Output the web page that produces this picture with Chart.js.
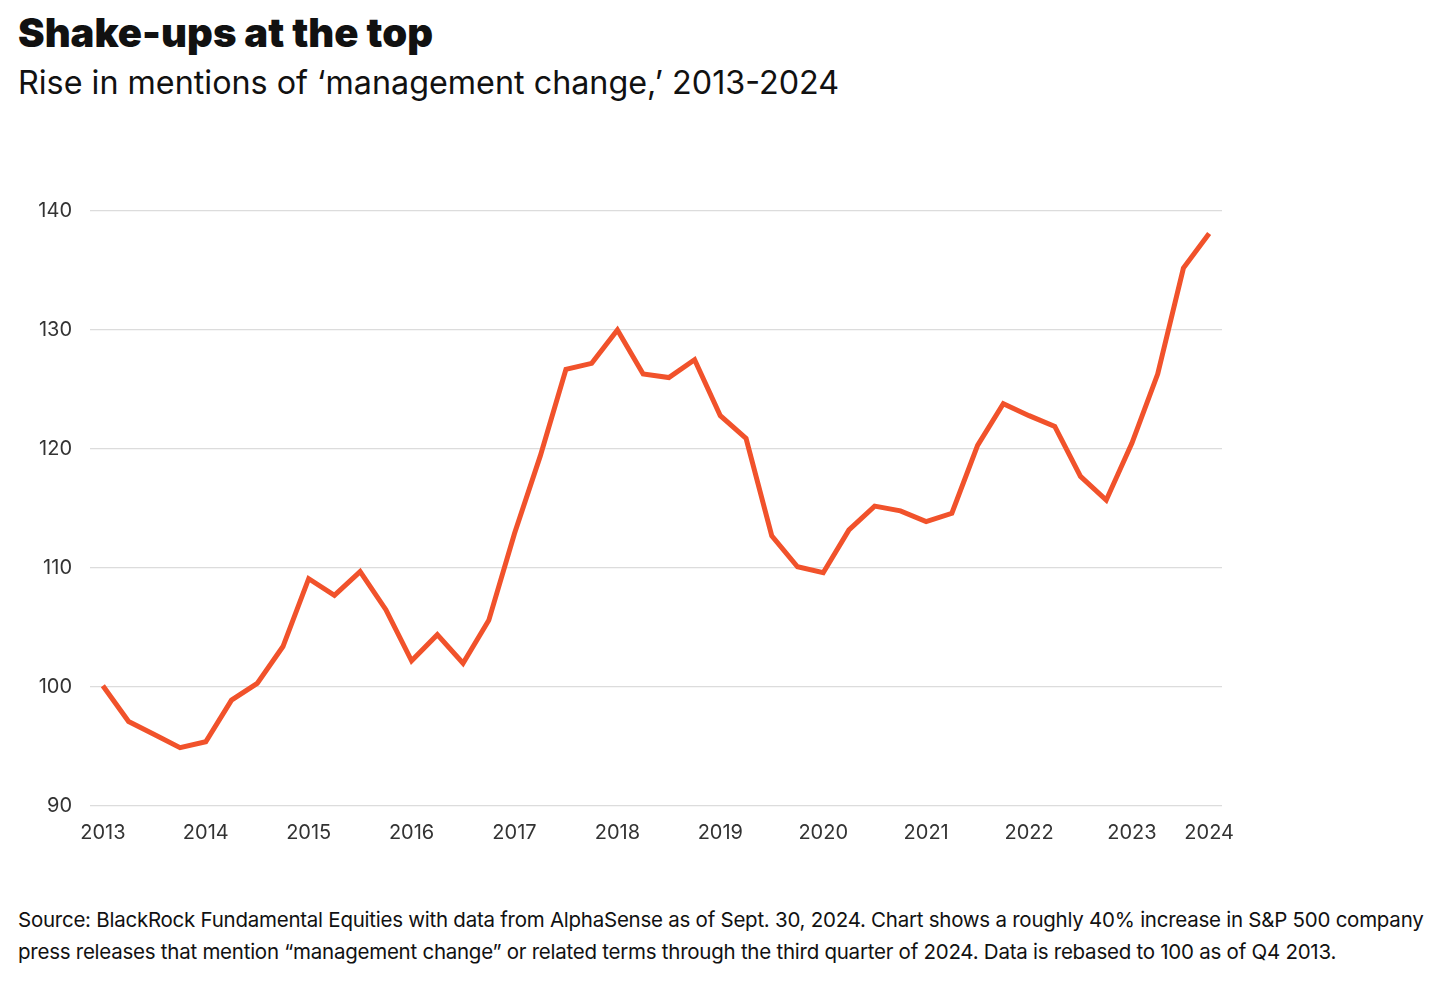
<!DOCTYPE html>
<html>
<head>
<meta charset="utf-8">
<script src="https://cdn.jsdelivr.net/npm/chart.js@4"></script>
<style>
  body { margin: 0; background: #fff; width: 1434px; height: 992px; position: relative; overflow: hidden; font-family: Inter, "Noto Sans", sans-serif; color: #111; }
  #title { position: absolute; left: 18px; top: 8px; font-size: 40px; font-weight: 900; letter-spacing: 0; margin: 0; }
  #subtitle { position: absolute; left: 18px; top: 63px; font-size: 32.3px; font-weight: 400; margin: 0; }
  #wrap { position: absolute; left: 0; top: 181px; width: 1260px; height: 679px; }
  #note { position: absolute; left: 18px; top: 904px; width: 1416px; font-size: 20.5px; line-height: 32px; margin: 0; letter-spacing: -0.25px; white-space: nowrap; }
</style>
</head>
<body>
<h1 id="title">Shake-ups at the top</h1>
<h2 id="subtitle">Rise in mentions of ‘management change,’ 2013-2024</h2>
<div id="wrap"><canvas id="mgmtChart"></canvas></div>
<p id="note">Source: BlackRock Fundamental Equities with data from AlphaSense as of Sept. 30, 2024. Chart shows a roughly 40% increase in S&amp;P 500 company<br>press releases that mention “management change” or related terms through the third quarter of 2024. Data is rebased to 100 as of Q4 2013.</p>
<script>
// quarterly, Q4 2013 .. Q3 2024
var quarters = ['Q4 2013',
  'Q1 2014', 'Q2 2014', 'Q3 2014', 'Q4 2014',
  'Q1 2015', 'Q2 2015', 'Q3 2015', 'Q4 2015',
  'Q1 2016', 'Q2 2016', 'Q3 2016', 'Q4 2016',
  'Q1 2017', 'Q2 2017', 'Q3 2017', 'Q4 2017',
  'Q1 2018', 'Q2 2018', 'Q3 2018', 'Q4 2018',
  'Q1 2019', 'Q2 2019', 'Q3 2019', 'Q4 2019',
  'Q1 2020', 'Q2 2020', 'Q3 2020', 'Q4 2020',
  'Q1 2021', 'Q2 2021', 'Q3 2021', 'Q4 2021',
  'Q1 2022', 'Q2 2022', 'Q3 2022', 'Q4 2022',
  'Q1 2023', 'Q2 2023', 'Q3 2023', 'Q4 2023',
  'Q1 2024', 'Q2 2024', 'Q3 2024'];

var mentions = [100.1,
  97.1, 96.0, 94.9, 95.4,
  98.9, 100.3, 103.4, 109.1,
  107.7, 109.7, 106.5, 102.2,
  104.4, 102.0, 105.6, 112.9,
  119.4, 126.7, 127.2, 130.0,
  126.3, 126.0, 127.5, 122.8,
  120.9, 112.7, 110.1, 109.6,
  113.2, 115.2, 114.8, 113.9,
  114.6, 120.3, 123.8, 122.8,
  121.9, 117.7, 115.7, 120.5,
  126.3, 135.2, 138.1];

// year label shown under these quarters
var yearTicks = {0: '2013', 4: '2014', 8: '2015', 12: '2016', 16: '2017', 20: '2018',
  24: '2019', 28: '2020', 32: '2021', 36: '2022', 40: '2023', 43: '2024'};

var yMin = 90, yMax = 140, yStep = 10;

var ctx = document.getElementById('mgmtChart').getContext('2d');
var myChart = new Chart(ctx, {
    type: 'line',
    data: {
        labels: quarters,
        datasets: [{
            label: 'Mentions',
            data: mentions,
            borderColor: '#f1522b',
            borderWidth: 5,
            pointRadius: 0,
            tension: 0,
            borderJoinStyle: 'miter',
            fill: false
        }]
    },
    options: {
        responsive: true,
        maintainAspectRatio: false,
        animation: false,
        layout: { padding: { top: 11, right: 38, left: 0, bottom: 0 } },
        plugins: { legend: { display: false }, tooltip: { enabled: false } },
        scales: {
            x: {
                offset: true,
                grid: { display: false },
                border: { display: false },
                ticks: {
                    autoSkip: false,
                    maxRotation: 0,
                    padding: 7,
                    color: '#333',
                    font: { family: 'Inter, "Noto Sans", sans-serif', size: 20 },
                    callback: function(val, i) { return yearTicks[i] || ''; }
                },
                afterFit: function(scale) { scale.height = 54; }
            },
            y: {
                min: yMin,
                max: yMax,
                grid: { color: '#dcdcdc', lineWidth: 1.3, drawTicks: false },
                border: { display: false },
                ticks: {
                    stepSize: yStep,
                    padding: 18,
                    color: '#333',
                    font: { family: 'Inter, "Noto Sans", sans-serif', size: 20 }
                },
                afterFit: function(scale) { scale.width = 90; }
            }
        }
    }
});
</script>
</body>
</html>
